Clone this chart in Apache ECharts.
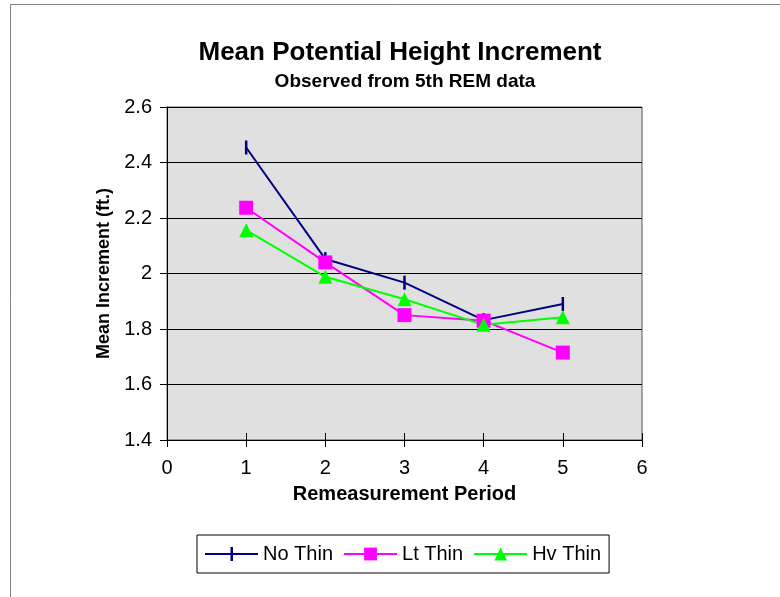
<!DOCTYPE html>
<html>
<head>
<meta charset="utf-8">
<script src="https://cdn.jsdelivr.net/npm/echarts@6/dist/echarts.min.js"></script>
<style>
html,body{margin:0;padding:0;background:#fff;}
#chart{width:780px;height:597px;}
</style>
</head>
<body>
<div id="chart"></div>
<script>
const periods = [1, 2, 3, 4, 5];
const noThin = [2.454, 2.052, 1.967, 1.832, 1.890];
const ltThin = [2.237, 2.040, 1.850, 1.830, 1.715];
const hvThin = [2.156, 1.988, 1.907, 1.815, 1.842];
const seriesNames = ['No Thin', 'Lt Thin', 'Hv Thin'];
const titleText = 'Mean Potential Height Increment';
const subtitleText = 'Observed from 5th REM data';
const xName = 'Remeasurement Period';
const yName = 'Mean Increment (ft.)';

const FONT = '"Liberation Sans", Arial, sans-serif';
const pairs = arr => periods.map((p, i) => [p, arr[i]]);

const chart = echarts.init(document.getElementById('chart'), null, {renderer: 'canvas'});
chart.setOption({
  animation: false,
  backgroundColor: '#ffffff',
  textStyle: {fontFamily: FONT},
  graphic: [{
    type: 'rect', silent: true,
    shape: {x: 10.5, y: 4.5, width: 800, height: 700},
    style: {fill: 'none', stroke: '#808080', lineWidth: 1}
  }],
  title: [{
    text: titleText, left: 400, top: 40, textAlign: 'center', padding: 0,
    textStyle: {fontFamily: FONT, fontWeight: 'bold', fontSize: 26, color: '#000'}
  }, {
    text: subtitleText, left: 405, top: 72, textAlign: 'center', padding: 0,
    textStyle: {fontFamily: FONT, fontWeight: 'bold', fontSize: 19, color: '#000'}
  }],
  legend: {
    left: 197, top: 535,
    orient: 'horizontal',
    padding: [9, 8, 9, 8],
    borderColor: '#000', borderWidth: 1,
    itemWidth: 53, itemHeight: 16, itemGap: 10,
    textStyle: {fontFamily: FONT, fontSize: 20, color: '#000'},
    data: [
      {name: seriesNames[0], icon: 'path://M0,7 L53,7 L53,9 L0,9 Z M25.5,1 L28,1 L28,15 L25.5,15 Z'},
      {name: seriesNames[1]},
      {name: seriesNames[2]}
    ]
  },
  grid: {
    left: 167, top: 107, width: 475, height: 333,
    show: true, backgroundColor: '#E0E0E0', borderColor: '#555', borderWidth: 1
  },
  xAxis: [{
    type: 'value', min: 0, max: 6, interval: 1,
    name: xName, nameLocation: 'middle', nameGap: 44,
    nameTextStyle: {fontFamily: FONT, fontWeight: 'bold', fontSize: 20, color: '#000'},
    axisLine: {show: true, onZero: false, lineStyle: {color: '#000', width: 1}},
    axisTick: {show: true, inside: false, length: 7, lineStyle: {color: '#000'}},
    axisLabel: {margin: 18, fontFamily: FONT, fontSize: 20, color: '#000'},
    splitLine: {show: false}
  }, {
    type: 'value', min: 0, max: 6, interval: 1, position: 'bottom',
    axisLine: {show: false},
    axisTick: {show: true, inside: true, length: 7, lineStyle: {color: '#000'}},
    axisLabel: {show: false},
    splitLine: {show: false}
  }],
  yAxis: {
    type: 'value', min: 1.4, max: 2.6, interval: 0.2,
    name: yName, nameLocation: 'middle', nameGap: 54, nameRotate: 90,
    nameTextStyle: {fontFamily: FONT, fontWeight: 'bold', fontSize: 18, color: '#000'},
    axisLine: {show: true, lineStyle: {color: '#000', width: 1}},
    axisTick: {show: true, length: 7, lineStyle: {color: '#000'}},
    axisLabel: {margin: 15, fontFamily: FONT, fontSize: 20, color: '#000'},
    splitLine: {show: true, lineStyle: {color: '#000', width: 1}}
  },
  series: [{
    name: seriesNames[0], type: 'line', data: pairs(noThin),
    symbol: 'rect', symbolSize: [2.5, 14],
    lineStyle: {color: '#000080', width: 2},
    itemStyle: {color: '#000080'}
  }, {
    name: seriesNames[1], type: 'line', data: pairs(ltThin),
    symbol: 'rect', symbolSize: 14,
    lineStyle: {color: '#FF00FF', width: 2},
    itemStyle: {color: '#FF00FF'}
  }, {
    name: seriesNames[2], type: 'line', data: pairs(hvThin),
    symbol: 'triangle', symbolSize: 14,
    lineStyle: {color: '#00FF00', width: 2},
    itemStyle: {color: '#00FF00'}
  }]
});
</script>
</body>
</html>
